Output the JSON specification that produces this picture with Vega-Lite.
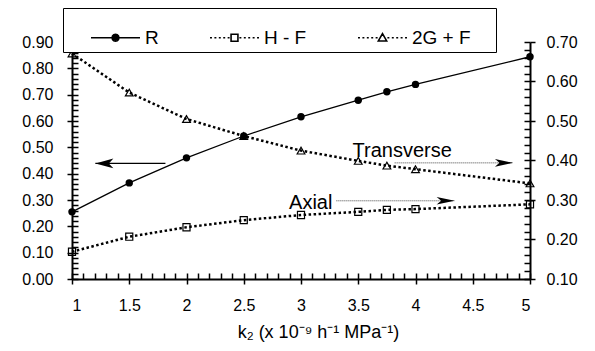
{
  "$schema": "https://vega.github.io/schema/vega-lite/v6.json",
  "width": 458,
  "height": 237,
  "autosize": {"type": "none"},
  "padding": {"left": 72, "top": 42, "right": 65, "bottom": 72},
  "background": "white",
  "datasets": {
    "pts": [
      {"k2": 1, "series": "R", "value": 0.255},
      {"k2": 1.5, "series": "R", "value": 0.365},
      {"k2": 2, "series": "R", "value": 0.46},
      {"k2": 2.5, "series": "R", "value": 0.543},
      {"k2": 3, "series": "R", "value": 0.616},
      {"k2": 3.5, "series": "R", "value": 0.679},
      {"k2": 3.75, "series": "R", "value": 0.711},
      {"k2": 4, "series": "R", "value": 0.739},
      {"k2": 5, "series": "R", "value": 0.844},
      {"k2": 1, "series": "H - F", "value": 0.169},
      {"k2": 1.5, "series": "H - F", "value": 0.207},
      {"k2": 2, "series": "H - F", "value": 0.231},
      {"k2": 2.5, "series": "H - F", "value": 0.249},
      {"k2": 3, "series": "H - F", "value": 0.262},
      {"k2": 3.5, "series": "H - F", "value": 0.27},
      {"k2": 3.75, "series": "H - F", "value": 0.275},
      {"k2": 4, "series": "H - F", "value": 0.277},
      {"k2": 5, "series": "H - F", "value": 0.289},
      {"k2": 1, "series": "2G + F", "value": 0.671},
      {"k2": 1.5, "series": "2G + F", "value": 0.572},
      {"k2": 2, "series": "2G + F", "value": 0.505},
      {"k2": 2.5, "series": "2G + F", "value": 0.462},
      {"k2": 3, "series": "2G + F", "value": 0.425},
      {"k2": 3.5, "series": "2G + F", "value": 0.399},
      {"k2": 3.75, "series": "2G + F", "value": 0.387},
      {"k2": 4, "series": "2G + F", "value": 0.378},
      {"k2": 5, "series": "2G + F", "value": 0.342}
    ],
    "arrows": [
      {"side": "left", "from": 1.816, "to": 1.204, "value": 0.439},
      {"side": "right", "from": 3.818, "to": 4.851, "value": 0.394},
      {"side": "right", "from": 3.309, "to": 4.342, "value": 0.298}
    ],
    "notes": [
      {"label": "Transverse", "k2": 3.884, "value": 0.41},
      {"label": "Axial", "k2": 3.085, "value": 0.277}
    ]
  },
  "config": {
    "view": {"stroke": null},
    "font": "Liberation Sans",
    "axis": {
      "labelFont": "Liberation Sans",
      "titleFont": "Liberation Sans",
      "labelColor": "black",
      "titleColor": "black",
      "domainColor": "black",
      "tickColor": "black",
      "grid": false,
      "labelFontSize": 16,
      "tickWidth": 1.5,
      "domainWidth": 2
    },
    "legend": {
      "orient": "none",
      "legendX": -9,
      "legendY": -34,
      "direction": "horizontal",
      "columns": 3,
      "padding": 4,
      "strokeColor": "black",
      "fillColor": "white",
      "labelFont": "Liberation Sans",
      "labelFontSize": 19,
      "labelColor": "black",
      "labelOffset": 4,
      "columnPadding": 47,
      "rowPadding": 0,
      "symbolSize": 2401,
      "symbolStrokeWidth": 1.6,
      "symbolStrokeColor": "black",
      "symbolFillColor": "transparent",
      "titleFont": "Liberation Sans",
      "titleFontSize": 19,
      "titleOrient": "left",
      "titlePadding": 1
    }
  },
  "layer": [
    {
      "layer": [
        {
          "data": {"name": "pts"},
          "transform": [{"filter": "datum.series == 'R'"}],
          "mark": {"type": "line", "color": "black", "strokeWidth": 1.3},
          "encoding": {
            "x": {"field": "k2", "type": "quantitative", "scale": {"domain": [1, 5], "nice": false, "zero": false},
              "axis": {"orient": "bottom", "values": [1, 1.5, 2, 2.5, 3, 3.5, 4, 4.5, 5], "format": "~g", "tickSize": 5, "labelPadding": 13,
                "title": "k₂ (x 10⁻⁹ h⁻¹ MPa⁻¹)", "titleFontSize": 18, "titleFontWeight": "normal", "titleX": 246, "titleY": 58, "titleBaseline": "alphabetic", "titleAlign": "center"}},
            "y": {"field": "value", "type": "quantitative", "scale": {"domain": [0, 0.9], "nice": false, "zero": false},
              "axis": {"orient": "left", "values": [0, 0.1, 0.2, 0.3, 0.4, 0.5, 0.6, 0.7, 0.8, 0.9], "format": ".2f", "tickSize": 5, "labelPadding": 14, "title": null}}
          }
        },
        {
          "data": {"name": "pts"},
          "transform": [{"filter": "datum.series == 'R'"}],
          "mark": {"type": "point", "shape": "circle", "filled": true, "color": "black", "size": 55, "opacity": 1},
          "encoding": {
            "x": {"field": "k2", "type": "quantitative", "scale": {"domain": [1, 5], "nice": false, "zero": false}, "axis": null},
            "y": {"field": "value", "type": "quantitative", "scale": {"domain": [0, 0.9], "nice": false, "zero": false}, "axis": null}
          }
        },
        {
          "data": {"name": "arrows"},
          "transform": [{"filter": "datum.side == 'left'"}],
          "mark": {"type": "rule", "color": "black", "strokeWidth": 1.2},
          "encoding": {
            "x": {"field": "from", "type": "quantitative", "scale": {"domain": [1, 5], "nice": false, "zero": false}, "axis": null},
            "x2": {"field": "to"},
            "y": {"field": "value", "type": "quantitative", "scale": {"domain": [0, 0.9], "nice": false, "zero": false}, "axis": null}
          }
        },
        {
          "data": {"name": "arrows"},
          "transform": [{"filter": "datum.side == 'left'"}],
          "mark": {"type": "point", "shape": "M0,0L2,-0.55L1.5,0L2,0.55Z", "filled": true, "color": "black", "size": 324, "opacity": 1},
          "encoding": {
            "x": {"field": "to", "type": "quantitative", "scale": {"domain": [1, 5], "nice": false, "zero": false}, "axis": null},
            "y": {"field": "value", "type": "quantitative", "scale": {"domain": [0, 0.9], "nice": false, "zero": false}, "axis": null}
          }
        },
        {
          "data": {"name": "pts"},
          "transform": [{"filter": "datum.series == 'R'"}],
          "mark": {"type": "point", "opacity": 0},
          "encoding": {
            "x": {"field": "k2", "type": "quantitative", "scale": {"domain": [1, 5], "nice": false, "zero": false},
              "axis": {"orient": "top", "offset": -237, "labels": false, "domain": false, "tickSize": 6, "title": null,
                "values": [1, 1.1, 1.2, 1.3, 1.4, 1.5, 1.6, 1.7, 1.8, 1.9, 2, 2.1, 2.2, 2.3, 2.4, 2.5, 2.6, 2.7, 2.8, 2.9, 3, 3.1, 3.2, 3.3, 3.4, 3.5, 3.6, 3.7, 3.8, 3.9, 4, 4.1, 4.2, 4.3, 4.4, 4.5, 4.6, 4.7, 4.8, 4.9, 5]}},
            "y": {"field": "value", "type": "quantitative", "scale": {"domain": [0, 0.9], "nice": false, "zero": false},
              "axis": {"orient": "right", "offset": -458, "labels": false, "domain": false, "tickSize": 6, "title": null,
                "values": [0, 0.02, 0.04, 0.06, 0.08, 0.1, 0.12, 0.14, 0.16, 0.18, 0.2, 0.22, 0.24, 0.26, 0.28, 0.3, 0.32, 0.34, 0.36, 0.38, 0.4, 0.42, 0.44, 0.46, 0.48, 0.5, 0.52, 0.54, 0.56, 0.58, 0.6, 0.62, 0.64, 0.66, 0.68, 0.7, 0.72, 0.74, 0.76, 0.78, 0.8, 0.82, 0.84, 0.86, 0.88, 0.9]}}
          }
        },
        {
          "data": {"name": "pts"},
          "transform": [{"filter": "datum.k2 > 100"}],
          "mark": {"type": "point", "size": 2401, "color": "black", "strokeWidth": 1.6, "opacity": 1, "filled": false},
          "encoding": {
            "shape": {"field": "series", "type": "nominal",
              "scale": {"domain": ["R", "H - F", "2G + F"],
                "range": [
                  "M-1,0L1,0M0.14,0L0.121,0.07L0.07,0.121L0,0.14L-0.07,0.121L-0.121,0.07L-0.14,0L-0.121,-0.07L-0.07,-0.121L0,-0.14L0.07,-0.121L0.121,-0.07ZM0.08,0L0.057,0.057L0,0.08L-0.057,0.057L-0.08,0L-0.057,-0.057L0,-0.08L0.057,-0.057ZM0.025,0L0,0.025L-0.025,0L0,-0.025Z",
                  "M-1,0L-0.92,0M-0.82,0L-0.74,0M-0.64,0L-0.56,0M-0.46,0L-0.38,0M-0.28,0L-0.2,0M0.2,0L0.28,0M0.38,0L0.46,0M0.56,0L0.64,0M0.74,0L0.82,0M0.92,0L1,0M-0.14,-0.14L0.14,-0.14L0.14,0.14L-0.14,0.14Z",
                  "M-1,0L-0.92,0M-0.82,0L-0.74,0M-0.64,0L-0.56,0M-0.46,0L-0.38,0M-0.28,0L-0.2,0M0.2,0L0.28,0M0.38,0L0.46,0M0.56,0L0.64,0M0.74,0L0.82,0M0.92,0L1,0M0,-0.17L0.17,0.13L-0.17,0.13Z"
                ]},
              "legend": {"title": "\u200b\u00a0\u00a0\u00a0\u00a0\u200b", "labelExpr": "datum.label == '2G + F' ? '2G + F\u00a0\u00a0\u00a0\u00a0\u200b' : datum.label"}}
          }
        }
      ],
      "resolve": {"axis": {"x": "independent", "y": "independent"}}
    },
    {
      "layer": [
        {
          "data": {"name": "pts"},
          "transform": [{"filter": "datum.series != 'R'"}],
          "mark": {"type": "line", "color": "black", "strokeWidth": 2.5, "strokeDash": [2.5, 2.5]},
          "encoding": {
            "x": {"field": "k2", "type": "quantitative", "scale": {"domain": [1, 5], "nice": false, "zero": false}, "axis": null},
            "y": {"field": "value", "type": "quantitative", "scale": {"domain": [0.1, 0.7], "nice": false, "zero": false},
              "axis": {"orient": "right", "values": [0.1, 0.2, 0.3, 0.4, 0.5, 0.6, 0.7], "format": ".2f", "tickSize": 5, "labelPadding": 11, "title": null}},
            "detail": {"field": "series", "type": "nominal"}
          }
        },
        {
          "data": {"name": "pts"},
          "transform": [{"filter": "datum.series == 'H - F'"}],
          "mark": {"type": "point", "shape": "square", "filled": false, "color": "black", "size": 50, "strokeWidth": 1.2, "opacity": 1},
          "encoding": {
            "x": {"field": "k2", "type": "quantitative", "scale": {"domain": [1, 5], "nice": false, "zero": false}, "axis": null},
            "y": {"field": "value", "type": "quantitative", "scale": {"domain": [0.1, 0.7], "nice": false, "zero": false}, "axis": null}
          }
        },
        {
          "data": {"name": "pts"},
          "transform": [{"filter": "datum.series == '2G + F'"}],
          "mark": {"type": "point", "shape": "triangle-up", "filled": false, "color": "black", "size": 60, "strokeWidth": 1.2, "opacity": 1},
          "encoding": {
            "x": {"field": "k2", "type": "quantitative", "scale": {"domain": [1, 5], "nice": false, "zero": false}, "axis": null},
            "y": {"field": "value", "type": "quantitative", "scale": {"domain": [0.1, 0.7], "nice": false, "zero": false}, "axis": null}
          }
        },
        {
          "data": {"name": "arrows"},
          "transform": [{"filter": "datum.side == 'right'"}],
          "mark": {"type": "rule", "color": "#444444", "strokeWidth": 1, "strokeDash": [1, 1]},
          "encoding": {
            "x": {"field": "from", "type": "quantitative", "scale": {"domain": [1, 5], "nice": false, "zero": false}, "axis": null},
            "x2": {"field": "to"},
            "y": {"field": "value", "type": "quantitative", "scale": {"domain": [0.1, 0.7], "nice": false, "zero": false}, "axis": null}
          }
        },
        {
          "data": {"name": "arrows"},
          "transform": [{"filter": "datum.side == 'right'"}],
          "mark": {"type": "point", "shape": "M0,0L-2,-0.42L-1.5,0L-2,0.42Z", "filled": true, "color": "black", "size": 324, "opacity": 1},
          "encoding": {
            "x": {"field": "to", "type": "quantitative", "scale": {"domain": [1, 5], "nice": false, "zero": false}, "axis": null},
            "y": {"field": "value", "type": "quantitative", "scale": {"domain": [0.1, 0.7], "nice": false, "zero": false}, "axis": null}
          }
        },
        {
          "data": {"name": "notes"},
          "mark": {"type": "text", "font": "Liberation Sans", "fontSize": 20, "color": "black", "align": "center", "baseline": "alphabetic"},
          "encoding": {
            "x": {"field": "k2", "type": "quantitative", "scale": {"domain": [1, 5], "nice": false, "zero": false}, "axis": null},
            "y": {"field": "value", "type": "quantitative", "scale": {"domain": [0.1, 0.7], "nice": false, "zero": false}, "axis": null},
            "text": {"field": "label"}
          }
        },
        {
          "data": {"name": "pts"},
          "transform": [{"filter": "datum.series == 'H - F'"}],
          "mark": {"type": "point", "opacity": 0},
          "encoding": {
            "x": {"field": "k2", "type": "quantitative", "scale": {"domain": [1, 5], "nice": false, "zero": false}, "axis": null},
            "y": {"field": "value", "type": "quantitative", "scale": {"domain": [0.1, 0.7], "nice": false, "zero": false},
              "axis": {"orient": "left", "offset": -458, "labels": false, "domain": false, "tickSize": 6, "title": null,
                "values": [0.1, 0.12, 0.14, 0.16, 0.18, 0.2, 0.22, 0.24, 0.26, 0.28, 0.3, 0.32, 0.34, 0.36, 0.38, 0.4, 0.42, 0.44, 0.46, 0.48, 0.5, 0.52, 0.54, 0.56, 0.58, 0.6, 0.62, 0.64, 0.66, 0.68, 0.7]}}
          }
        }
      ],
      "resolve": {"axis": {"x": "independent", "y": "independent"}}
    }
  ],
  "resolve": {"scale": {"y": "independent"}, "axis": {"x": "independent", "y": "independent"}}
}
